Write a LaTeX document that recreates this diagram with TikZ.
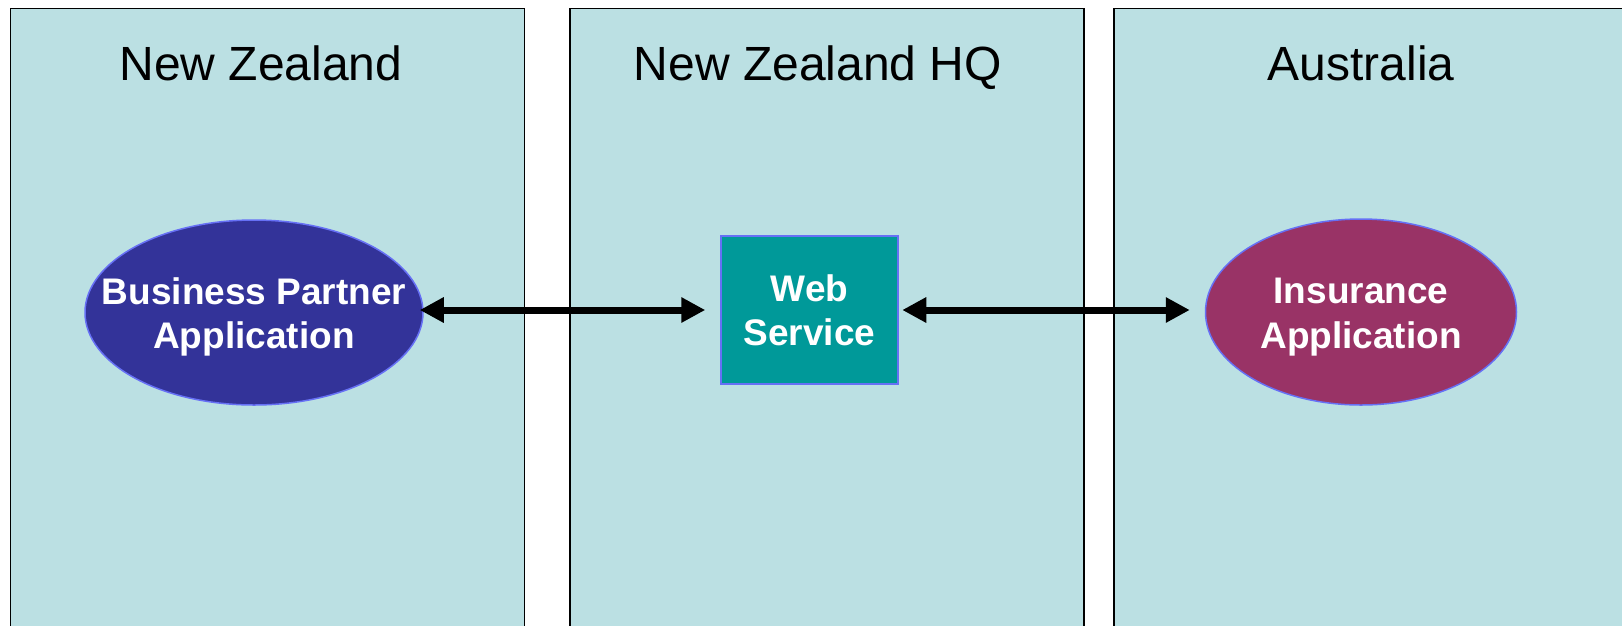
\documentclass[tikz,border=0pt]{standalone}
\usepackage{fontspec}
\setmainfont{Liberation Sans}
\usetikzlibrary{arrows.meta,shapes.geometric}
\definecolor{panelfill}{HTML}{BBE0E3}
\definecolor{bpblue}{HTML}{333399}
\definecolor{wsteal}{HTML}{009999}
\definecolor{iamag}{HTML}{993366}
\definecolor{shapeline}{HTML}{6670F5}
\tikzset{
  panel/.style={draw=black, line width=1.5pt, fill=panelfill},
  ptitle/.style={anchor=base, inner sep=0pt, font=\fontsize{48}{56}\selectfont},
  appell/.style={ellipse, draw=shapeline, line width=1.5pt, inner sep=0pt},
  svcbox/.style={rectangle, draw=shapeline, line width=1.5pt, fill=wsteal, inner sep=0pt, minimum width=177pt, minimum height=148pt},
  wlbl/.style={text=white, align=center, inner sep=0pt, font=\bfseries\fontsize{37}{44.5}\selectfont},
  link/.style={line width=7pt, {Triangle[length=24pt,width=24pt]}-{Triangle[length=24pt,width=24pt]}}
}
\begin{document}
\begin{tikzpicture}[x=1pt,y=-1pt]
\useasboundingbox (0,0) rectangle (1622,625);
\clip (0,0) rectangle (1622,625);
% panels
\draw[panel] (10.3,8.5) rectangle (524.5,660);
\draw[panel] (570,8.5) rectangle (1084,660);
\draw[panel] (1114,8.5) rectangle (1660,660);
% titles
\node[ptitle] (t1) at (261,80) {New Zealand};
\node[ptitle] (t2) at (818,80) {New Zealand HQ};
\node[ptitle] (t3) at (1361,80) {Australia};
% shapes
\node[appell, fill=bpblue, minimum width=338pt, minimum height=185pt] (bp) at (254,312.5) {};
\node[wlbl] (bptxt) at (254,317) {Business Partner\\Application};
\node[svcbox] (ws) at (809.5,310) {};
\node[wlbl] (wstxt) at (809.5,310.5) {Web~\\Service};
\node[appell, fill=iamag, minimum width=311pt, minimum height=186pt] (ia) at (1361,312) {};
\node[wlbl] (iatxt) at (1361,317) {Insurance\\Application};
% connectors
\draw[link, shorten >=15pt] ([xshift=-4pt]ws.west -| bp.east) -- (ws.west);
\draw[link, shorten >=15pt] ([xshift=3.5pt]ws.east) -- (ws.east -| ia.west);
\end{tikzpicture}
\end{document}
